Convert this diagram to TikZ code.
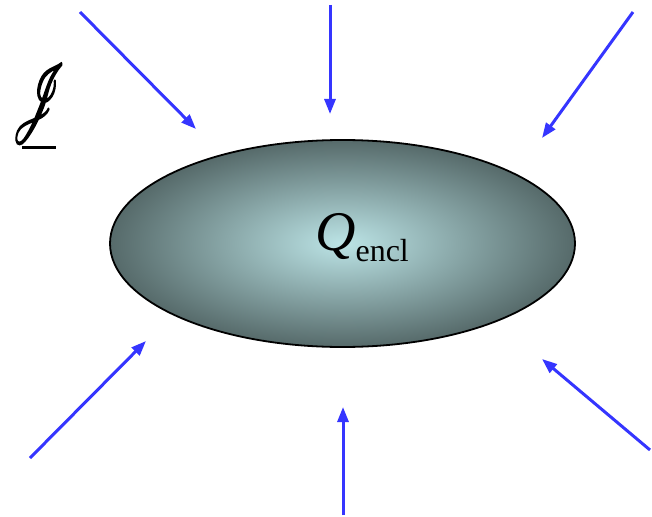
\documentclass[tikz,border=0pt]{standalone}
\usepackage{fontspec}
\setmainfont{Liberation Serif}
\usepackage{mathrsfs}
\usepackage{graphicx}
\usetikzlibrary{arrows.meta}
\definecolor{arrowblue}{HTML}{3535FF}
\definecolor{inner}{HTML}{BCE4E6}
\definecolor{outer}{HTML}{566A6A}
\tikzset{
  flux/.style={draw=arrowblue, line width=3pt, -{Triangle[length=15pt,width=11pt]}},
  blob/.style={draw=black, line width=1.8pt, inner color=inner, outer color=outer},
}
\newcommand{\fakebold}[1]{\special{pdf:literal direct 2 Tr 0.25 w}#1\special{pdf:literal direct 0 Tr}}
\begin{document}
\begin{tikzpicture}[x=1pt,y=-1pt]
\useasboundingbox (0,0) rectangle (652,516);
\path[blob] (342.5,243.5) ellipse [x radius=232.5, y radius=103.5];
\node[inner sep=0pt] (q) at (362,238) {\fontsize{56}{58}\selectfont\itshape Q\upshape\raisebox{-0.2em}{\fontsize{32}{34}\selectfont encl}};
\node[inner sep=0pt] (j) at (39,103.5) {\resizebox{55pt}{56pt}{\fakebold{$\mathscr{J}$}}};
\coordinate (ul1) at (22,147);
\coordinate (ul2) at (56,147);
\draw[line width=3pt] (ul1) -- (ul2);
\coordinate (s1) at (80,12);   \coordinate (e1) at (196,129);
\coordinate (s2) at (330,5);   \coordinate (e2) at (330,114);
\coordinate (s3) at (633,12);  \coordinate (e3) at (542,138);
\coordinate (s4) at (30,458);  \coordinate (e4) at (146,341);
\coordinate (s5) at (343,515); \coordinate (e5) at (343,407);
\coordinate (s6) at (650,450); \coordinate (e6) at (542,359);
\foreach \i in {1,...,6} {\draw[flux] (s\i) -- (e\i);}
\end{tikzpicture}
\end{document}
